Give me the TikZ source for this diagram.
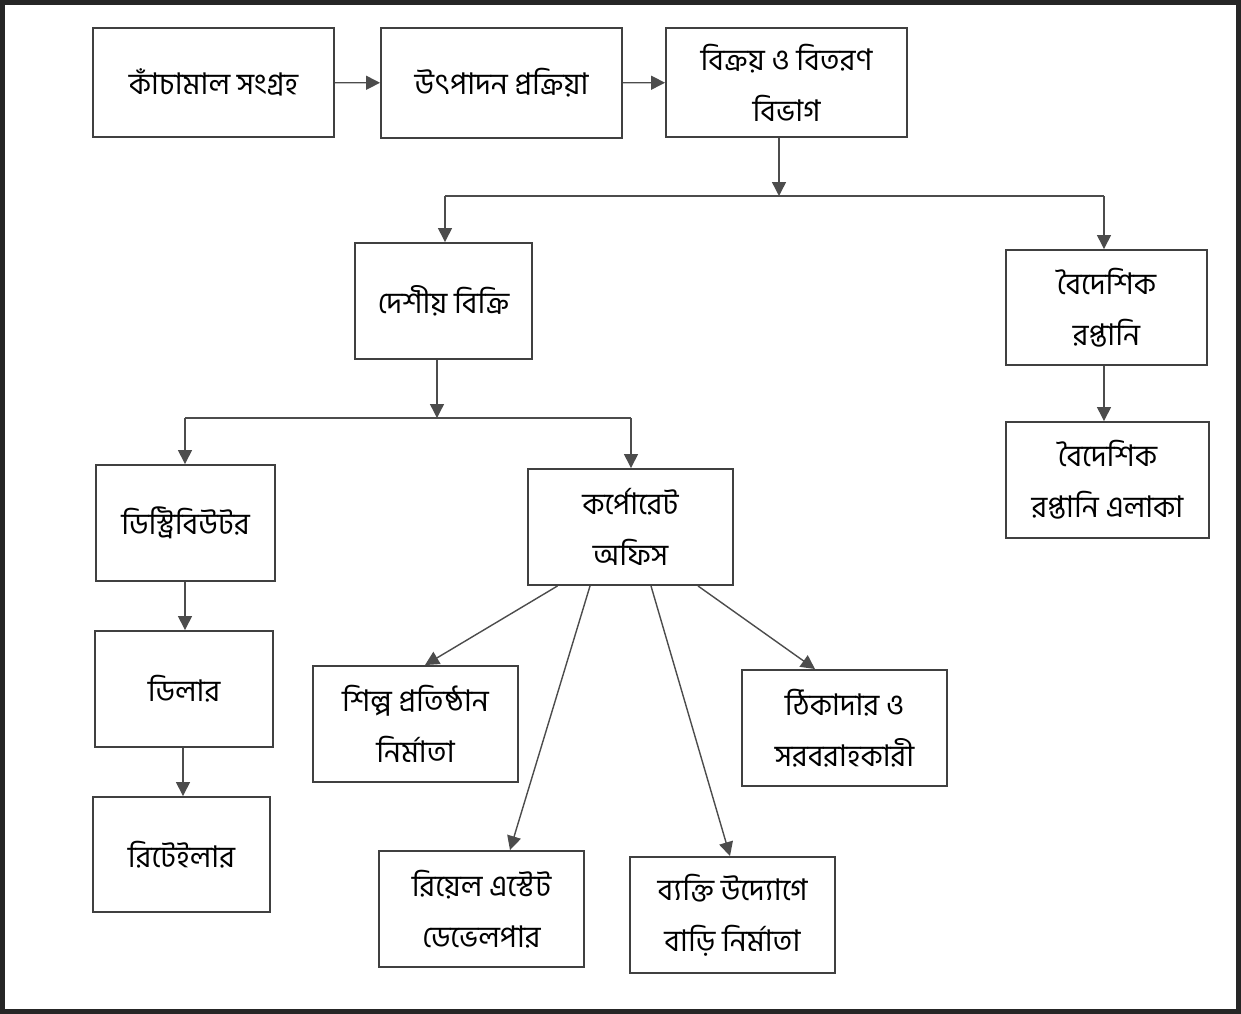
\documentclass[tikz,border=0pt]{standalone}
\usepackage{fontspec}
\newfontfamily\bangla[Script=Bengali]{Hind Siliguri}
\usetikzlibrary{arrows.meta,positioning}
\begin{document}
\begin{tikzpicture}[x=0.02cm,y=-0.02cm,
  main/.style={draw=black!75,line width=1.1pt,rectangle,align=center,font=\bangla\fontsize{17pt}{29pt}\selectfont,inner sep=2pt},
  link/.style={draw=black!70,line width=0.8pt},
  arr/.style={link,-{Triangle[length=0.28cm,width=0.28cm]}}]
\useasboundingbox (0,0) rectangle (1241,1014);
\draw[black!85,line width=0.1cm] (2.5,2.5) rectangle (1238.5,1011.5);
\node[main,minimum width=4.82cm,minimum height=2.18cm](kacha) at (213.5,82.5){কাঁচামাল সংগ্রহ};
\node[main,minimum width=4.82cm,minimum height=2.2cm](utpadon) at (501.5,83){উৎপাদন প্রক্রিয়া};
\node[main,minimum width=4.82cm,minimum height=2.18cm](bikroy) at (786.5,82.5){বিক্রয় ও বিতরণ\\বিভাগ};
\node[main,minimum width=3.54cm,minimum height=2.32cm](deshiyo) at (443.5,301){দেশীয় বিক্রি};
\node[main,minimum width=4.02cm,minimum height=2.3cm](boideshik) at (1106.5,307.5){বৈদেশিক\\রপ্তানি};
\node[main,minimum width=4.06cm,minimum height=2.32cm](elaka) at (1107.5,480){বৈদেশিক\\রপ্তানি এলাকা};
\node[main,minimum width=3.58cm,minimum height=2.32cm](distributor) at (185.5,523){ডিস্ট্রিবিউটর};
\node[main,minimum width=4.1cm,minimum height=2.32cm](corporate) at (630.5,527){কর্পোরেট\\অফিস};
\node[main,minimum width=3.56cm,minimum height=2.32cm](dealer) at (184,689){ডিলার};
\node[main,minimum width=3.54cm,minimum height=2.3cm](retailer) at (181.5,854.5){রিটেইলার};
\node[main,minimum width=4.1cm,minimum height=2.32cm](shilpo) at (415.5,724){শিল্প প্রতিষ্ঠান\\নির্মাতা};
\node[main,minimum width=4.1cm,minimum height=2.32cm](thikadar) at (844.5,728){ঠিকাদার ও\\সরবরাহকারী};
\node[main,minimum width=4.1cm,minimum height=2.32cm](realestate) at (481.5,909){রিয়েল এস্টেট\\ডেভেলপার};
\node[main,minimum width=4.1cm,minimum height=2.32cm](bekti) at (732.5,915){ব্যক্তি উদ্যোগে\\বাড়ি নির্মাতা};
\coordinate (m1) at (779,196);
\coordinate (b1) at (445,196);
\coordinate (b2) at (1104,196);
\coordinate (m2) at (437,418);
\coordinate (b3) at (185,418);
\coordinate (b4) at (631,418);
\coordinate (v1) at (183,760);
\draw[arr] (kacha) -- (utpadon);
\draw[arr] (utpadon) -- (bikroy);
\draw[arr] (bikroy.south -| m1) -- (m1);
\draw[link] (b1) -- (b2);
\draw[arr] (b1) -- (deshiyo.north -| b1);
\draw[arr] (b2) -- (boideshik.north -| b2);
\draw[arr] (boideshik.south -| b2) -- (elaka.north -| b2);
\draw[arr] (deshiyo.south -| m2) -- (m2);
\draw[link] (b3) -- (b4);
\draw[arr] (b3) -- (distributor.north -| b3);
\draw[arr] (b4) -- (corporate.north -| b4);
\draw[arr] (distributor.south -| b3) -- (dealer.north -| b3);
\draw[arr] (dealer.south -| v1) -- (retailer.north -| v1);
\draw[arr] ([xshift=-1.46cm]corporate.south) -- ([xshift=0.19cm]shilpo.north);
\draw[arr] ([xshift=-0.81cm]corporate.south) -- ([xshift=0.57cm]realestate.north);
\draw[arr] ([xshift=0.41cm]corporate.south) -- ([xshift=-0.05cm]bekti.north);
\draw[arr] ([xshift=1.35cm]corporate.south) -- ([xshift=-0.59cm]thikadar.north);
\end{tikzpicture}
\end{document}
